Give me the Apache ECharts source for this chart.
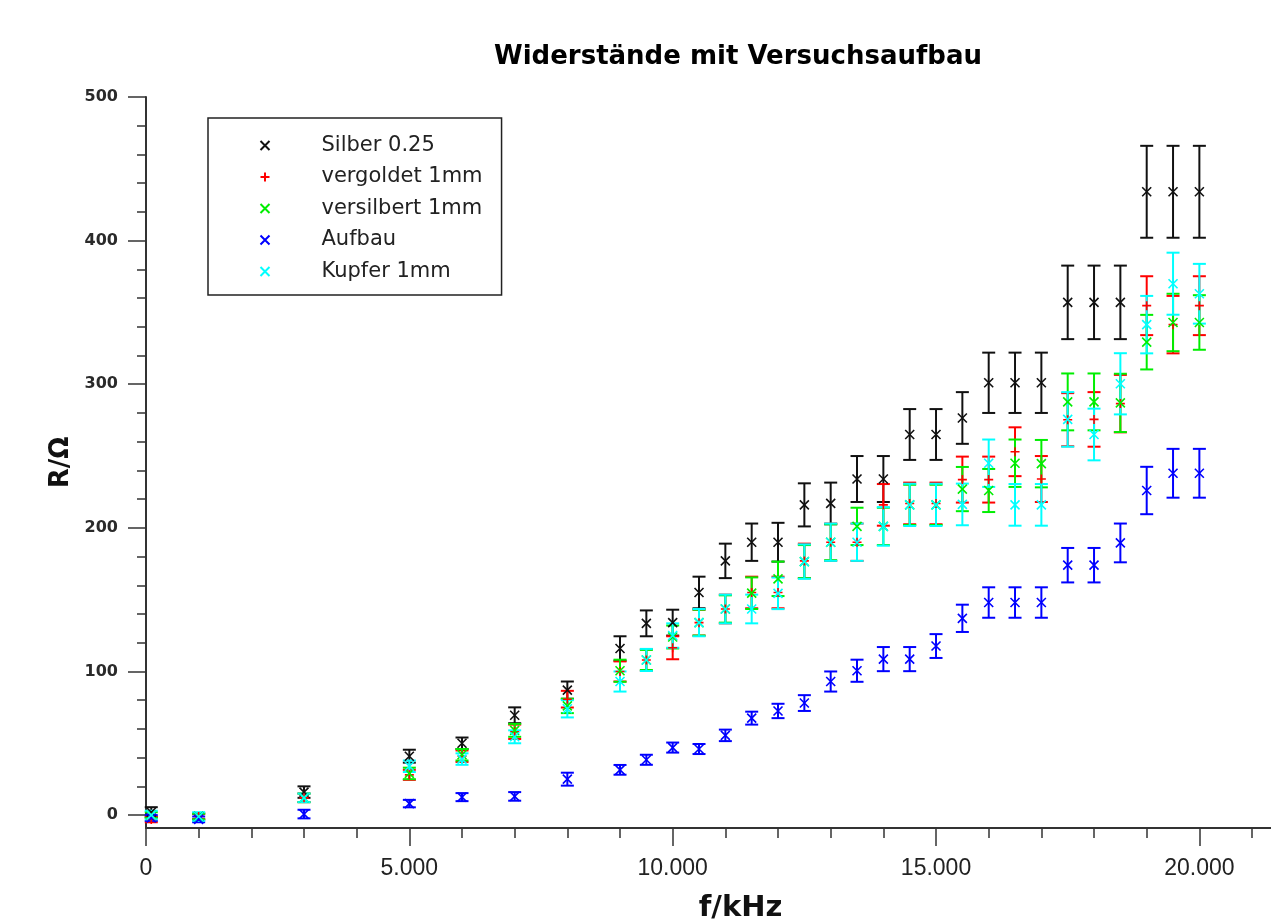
<!DOCTYPE html>
<html>
<head>
<meta charset="utf-8">
<script src="https://cdn.jsdelivr.net/npm/echarts@6/dist/echarts.min.js"></script>
<style>html,body{margin:0;padding:0;background:#fff;}#chart{width:1271px;height:920px;}</style>
</head>
<body>
<div id="chart"></div>
<script>
// ---- data ----
const freqs = [100,1000,3000,5000,6000,7000,8000,9000,9500,10000,10500,11000,11500,12000,12500,13000,13500,14000,14500,15000,15500,16000,16500,17000,17500,18000,18500,19000,19500,20000];

const silber = [2,-1,16,41,50,69.5,87,116,133.5,134,155,177,190,190,216,217,234,234,265,265,276.5,301,301,301,357,357,357,434,434,434];
const silberErr = [3.5,2,4,4.5,4,5.5,6,8.5,9,9,11,12,13,13.5,15,14.5,16,16,17.7,17.7,18,21,21,21,25.6,25.6,25.6,32,32,32];

const vergoldet = [-3,-1,12,28,41,58,80.7,100,108,116.5,134,143.5,155,155,177,190,190,216,217,217,233.6,233.6,253,234,275.3,275.5,286.5,354.7,341.5,354.7];
const vergoldetErr = [2,2,3,3.5,4,5,5.8,7,7.5,8,9,10,11,11,12,13,13,14.5,14.5,14.5,16,16,17,16,18.5,19,20,20.5,20,20.5];

const versilbert = [0,-1,12,29,42,59,76,100.5,108,124,134,143.5,154.5,164.5,176.5,190,201,201,216,216,227,226,245,244.7,287.7,287.7,287,329.3,343,343];
const versilbertErr = [2,2,3,4,4,4.5,5,7.7,7,8,9,9.5,11,12,11.5,12.5,13,13,14,14,15.4,15,16.5,16.5,19.8,19.8,20.3,19,20,19];

const aufbau = [-2,-3,0.7,8,12.5,13,25,31.5,38.5,47,46,55.5,67.5,72.5,78,93,100.5,108.6,108.6,117.7,137,148,148,148,174,174,189.5,226,238,238];
const aufbauErr = [2,2,3,2.6,2.8,3,4.5,3.4,3.5,3.5,3.5,4,4.5,5,5.5,7,7.7,8.4,8.4,8.3,9.5,10.6,10.6,10.6,12,12,13.5,16.5,17,17];

const kupfer = [0,-1,12,34,39,54.5,74,93,108,125,134,143.5,143.5,154.4,176.5,190,190,201,216,216,216.3,245,216,216,275.5,265,300.3,341.5,370,363];
const kupferErr = [3,3,3,4,4,4.5,6,7,7.7,8.5,9.5,10,10,11,12,13,13,13.4,14.7,14.7,14.5,16.5,14.5,14.5,19,18,21.3,20,21.6,20.8];

const seriesNames = ['Silber 0.25','vergoldet 1mm','versilbert 1mm','Aufbau','Kupfer 1mm'];

const xTicks = [0,5000,10000,15000,20000];
const xMinorTicks = [1000,2000,3000,4000,6000,7000,8000,9000,11000,12000,13000,14000,16000,17000,18000,19000,21000];
const yTicks = [0,100,200,300,400,500];
const yMinorTicks = [20,40,60,80,120,140,160,180,220,240,260,280,320,340,360,380,420,440,460,480];

// ---- chart ----
const CROSS = 'path://M0,0L10,10M10,0L0,10';
const PLUS = 'path://M5,0L5,10M0,5L10,5';
const defs = [
  {name: seriesNames[0], v: silber, e: silberErr, color: '#111111', sym: CROSS},
  {name: seriesNames[1], v: vergoldet, e: vergoldetErr, color: '#ff0000', sym: PLUS},
  {name: seriesNames[2], v: versilbert, e: versilbertErr, color: '#00ee00', sym: CROSS},
  {name: seriesNames[3], v: aufbau, e: aufbauErr, color: '#0000ff', sym: CROSS},
  {name: seriesNames[4], v: kupfer, e: kupferErr, color: '#00ffff', sym: CROSS}
];

function fmtDE(v) {
  return String(Math.round(v)).replace(/\B(?=(\d{3})+(?!\d))/g, '.');
}

const series = [];
defs.forEach(d => {
  const data = freqs.map((f, i) => [f, d.v[i], d.e[i]]);
  series.push({
    name: d.name + ' err',
    type: 'custom',
    xAxisIndex: 0, yAxisIndex: 0,
    silent: true,
    data: data,
    encode: {x: 0, y: 1},
    renderItem: function (params, api) {
      const x = api.value(0), y = api.value(1), e = api.value(2);
      const top = api.coord([x, y + e]);
      const bot = api.coord([x, y - e]);
      const hw = 6.5;
      const st = {stroke: d.color, lineWidth: 2};
      return {
        type: 'group',
        children: [
          {type: 'line', shape: {x1: top[0], y1: top[1], x2: bot[0], y2: bot[1]}, style: st},
          {type: 'line', shape: {x1: top[0] - hw, y1: top[1], x2: top[0] + hw, y2: top[1]}, style: st},
          {type: 'line', shape: {x1: bot[0] - hw, y1: bot[1], x2: bot[0] + hw, y2: bot[1]}, style: st}
        ]
      };
    }
  });
  series.push({
    name: d.name,
    type: 'scatter',
    xAxisIndex: 0, yAxisIndex: 0,
    symbol: d.sym,
    symbolSize: 9,
    itemStyle: {color: 'none', borderColor: d.color, borderWidth: 1.6, opacity: 1},
    data: freqs.map((f, i) => [f, d.v[i]])
  });
});

const chart = echarts.init(document.getElementById('chart'), null, {renderer: 'canvas'});
const axisColor = '#333333';
chart.setOption({
  animation: false,
  backgroundColor: '#ffffff',
  title: {
    text: 'Widerstände mit Versuchsaufbau',
    left: 494, top: 44, padding: 0,
    textStyle: {fontFamily: 'DejaVu Sans', fontWeight: 'bold', fontSize: 26, color: '#000'}
  },
  legend: {
    orient: 'vertical',
    left: 208, top: 118,
    padding: [17, 19, 13, 50],
    backgroundColor: '#fff',
    borderColor: '#222',
    borderWidth: 1.5,
    borderRadius: 0,
    itemWidth: 9, itemHeight: 9,
    itemGap: 10.5,
    data: seriesNames,
    textStyle: {fontFamily: 'DejaVu Sans', fontSize: 21, color: '#222', lineHeight: 21, padding: [0, 0, 0, 47]}
  },
  grid: {left: 146, right: 0, top: 97, bottom: 92, containLabel: false, outerBoundsMode: 'none'},
  xAxis: [
    {
      type: 'value', min: 0, max: 21360,
      name: 'f/kHz', nameLocation: 'middle', nameGap: 66,
      nameTextStyle: {fontFamily: 'DejaVu Sans', fontWeight: 'bold', fontSize: 29, color: '#111', padding: [0, 0, 0, 64]},
      axisLine: {show: true, onZero: false, lineStyle: {color: axisColor, width: 2}},
      axisTick: {show: true, length: 18, customValues: xTicks, lineStyle: {color: axisColor, width: 1.5}},
      axisLabel: {show: true, margin: 29, customValues: xTicks, formatter: fmtDE,
        fontFamily: 'Liberation Sans', fontSize: 23, color: '#222'},
      splitLine: {show: false}
    },
    {
      type: 'value', min: 0, max: 21360, position: 'bottom',
      axisLine: {show: false, onZero: false},
      axisTick: {show: true, length: 10, customValues: xMinorTicks, lineStyle: {color: axisColor, width: 1.5}},
      axisLabel: {show: false},
      splitLine: {show: false}
    }
  ],
  yAxis: [
    {
      type: 'value', min: -9, max: 500,
      name: 'R/Ω', nameLocation: 'middle', nameGap: 72, nameRotate: 90, nameMoveOverlap: false,
      nameTextStyle: {fontFamily: 'DejaVu Sans', fontWeight: 'bold', fontSize: 26, color: '#111'},
      axisLine: {show: true, onZero: false, lineStyle: {color: axisColor, width: 2}},
      axisTick: {show: true, length: 18, customValues: yTicks, lineStyle: {color: axisColor, width: 1.5}},
      axisLabel: {show: true, margin: 28, customValues: yTicks,
        fontFamily: 'DejaVu Sans', fontWeight: 'bold', fontSize: 16, color: '#2a2a2a'},
      splitLine: {show: false}
    },
    {
      type: 'value', min: -9, max: 500, position: 'left',
      axisLine: {show: false, onZero: false},
      axisTick: {show: true, length: 9, customValues: yMinorTicks, lineStyle: {color: axisColor, width: 1.5}},
      axisLabel: {show: false},
      splitLine: {show: false}
    }
  ],
  series: series
});
</script>
</body>
</html>
